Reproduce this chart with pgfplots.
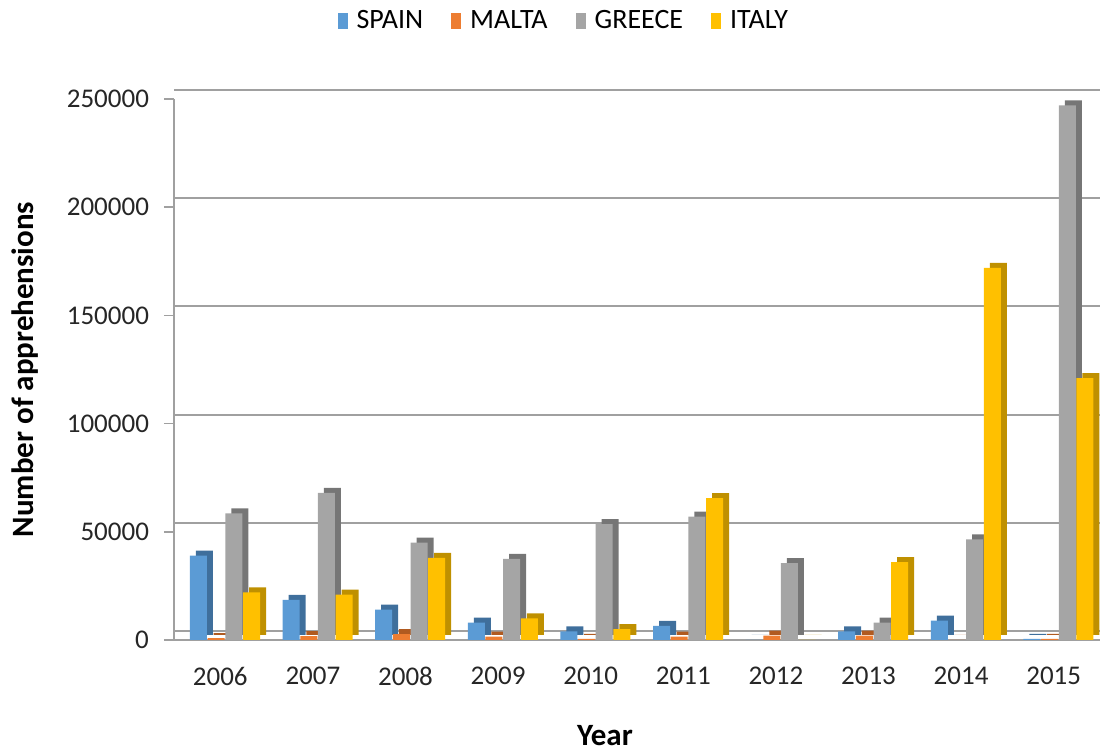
\documentclass[border=0pt]{standalone}
\usepackage{fontspec}
\setmainfont{Carlito}
\usepackage{pgfplots}
\usepackage{pgfplotstable}
\pgfplotsset{compat=1.18}
\definecolor{cSp}{HTML}{5B9BD5}
\definecolor{cMa}{HTML}{ED7D31}
\definecolor{cGr}{HTML}{A5A5A5}
\definecolor{cIt}{HTML}{FFC000}
\definecolor{cSpD}{HTML}{3F6F9C}
\definecolor{cMaD}{HTML}{B05A20}
\definecolor{cGrD}{HTML}{767676}
\definecolor{cItD}{HTML}{BF9000}
\definecolor{gridc}{HTML}{A0A0A0}
\pgfplotstableread{
year sp ma gr it
0 39000 900 58500 22000
1 18500 1800 68000 21000
2 14000 2700 45000 38000
3 8000 1500 37500 10000
4 4000 500 53500 5000
5 6500 1500 57000 65500
6 0 2000 35500 0
7 4000 2000 8000 36000
8 9000 0 46500 172000
9 500 500 247000 121000
}\data
\begin{document}
\begin{tikzpicture}
\begin{axis}[name=ax, scale only axis, width=463pt, height=270.5pt,
  xmin=-0.5, xmax=9.5, ymin=0, ymax=250000, clip=false,
  ybar, bar width=8.5pt,
  xtick={0,...,9}, xticklabels={2006,2007,2008,2009,2010,2011,2012,2013,2014,2015},
  major x tick style={draw=none},
  extra x ticks={-0.5,0.5,1.5,2.5,3.5,4.5,5.5,6.5,7.5,8.5,9.5},
  extra x tick labels={,,,,,,,,,,},
  extra x tick style={grid=none, xticklabel={}, major tick length=6pt, tick style={draw=gridc, line width=0.8pt}},
  ytick={0,50000,100000,150000,200000,250000},
  yticklabels={0,50000,100000,150000,200000,250000},
  scaled y ticks=false,
  ymajorgrids, grid style={line width=1pt, color=gridc, yshift=4.5pt},
  axis x line*=bottom, axis y line*=left,
  axis line style={gridc, line width=0.8pt},
  tick align=outside, major tick length=5pt,
  y tick style={gridc, line width=0.8pt},
  tick label style={font=\fontsize{13.5}{16}\selectfont, text=black!85},
  xticklabel style={yshift=-5pt},
  yticklabel style={xshift=-4pt},
  xlabel={Year}, ylabel={Number of apprehensions},
  every axis x label/.style={at={(rel axis cs:0.5,0)}, xshift=-16pt, yshift=-48pt, anchor=center, font=\fontsize{15.5}{18}\selectfont\bfseries},
  every axis y label/.style={at={(rel axis cs:0,0.5)}, xshift=-74.5pt, rotate=90, anchor=center, font=\fontsize{15.5}{18}\selectfont\bfseries},
  legend style={at={(rel axis cs:0.422,1.145)}, anchor=center, draw=none, legend columns=4,
    font=\fontsize{14}{16}\selectfont, /tikz/every odd column/.append style={column sep=2.5pt},
    /tikz/every even column/.append style={column sep=12pt}},
  legend image code/.code={\fill[#1] (0pt,-4pt) rectangle (5pt,4pt);},
]
\addplot[fill=cSpD, draw=none, bar shift=-10.9pt, xshift=3pt, yshift=2.5pt, forget plot] table[x=year,y=sp]{\data};
\addplot[fill=cSp, draw=none, bar shift=-10.9pt] table[x=year,y=sp]{\data};
\addplot[fill=cMaD, draw=none, bar shift=-2.07pt, xshift=3pt, yshift=2.5pt, forget plot] table[x=year,y=ma]{\data};
\addplot[fill=cMa, draw=none, bar shift=-2.07pt] table[x=year,y=ma]{\data};
\addplot[fill=cGrD, draw=none, bar shift=6.77pt, xshift=3pt, yshift=2.5pt, forget plot] table[x=year,y=gr]{\data};
\addplot[fill=cGr, draw=none, bar shift=6.77pt] table[x=year,y=gr]{\data};
\addplot[fill=cItD, draw=none, bar shift=15.6pt, xshift=3pt, yshift=2.5pt, forget plot] table[x=year,y=it]{\data};
\addplot[fill=cIt, draw=none, bar shift=15.6pt] table[x=year,y=it]{\data};
\legend{SPAIN,MALTA,GREECE,ITALY}
\end{axis}
\pgfresetboundingbox
\path (ax.south west) ++(-87pt,-55.5pt) rectangle ([shift={(3pt,49.5pt)}]ax.north east);
\end{tikzpicture}
\end{document}
